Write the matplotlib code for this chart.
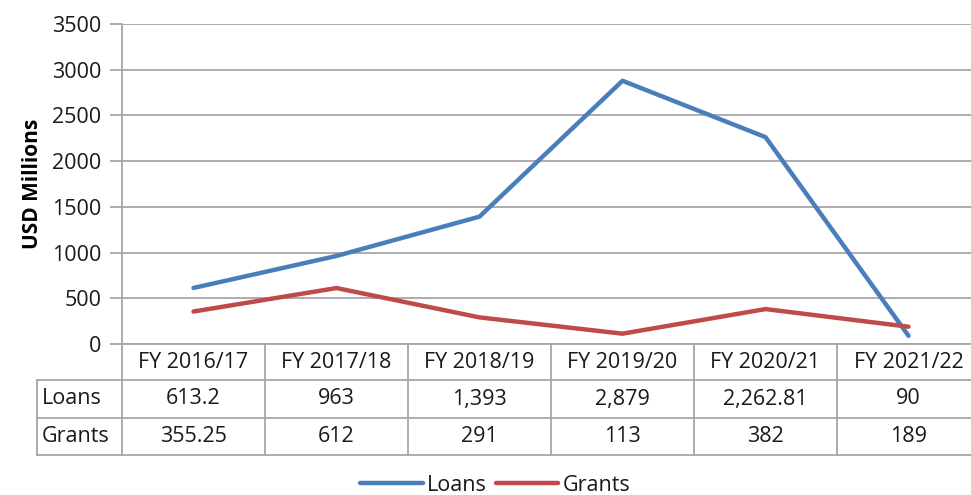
import matplotlib
matplotlib.use('Agg')
import matplotlib.pyplot as plt
import matplotlib.transforms as mtransforms

years = ['FY 2016/17', 'FY 2017/18', 'FY 2018/19', 'FY 2019/20', 'FY 2020/21', 'FY 2021/22']
loans = [613.2, 963, 1393, 2879, 2262.81, 90]
grants = [355.25, 612, 291, 113, 382, 189]
loans_txt = ['613.2', '963', '1,393', '2,879', '2,262.81', '90']
grants_txt = ['355.25', '612', '291', '113', '382', '189']

plt.rcParams['font.family'] = ['Open Sans', 'DejaVu Sans']
blue = '#4A7EBB'
red = '#BE4B48'
grid = '#A6A6A6'
ink = '#1a1a1a'
fs = 15.5

fig = plt.figure(figsize=(9.71, 4.95), dpi=100)
W, H = 971, 495
x0, x1 = 122, 980
ytop, ybot = 24, 344
ax = fig.add_axes([x0 / W, 1 - ybot / H, (x1 - x0) / W, (ybot - ytop) / H])

xs = list(range(len(years)))
ax.plot(xs, loans, color=blue, lw=3.2, label='Loans', solid_capstyle='round')
ax.plot(xs, grants, color=red, lw=3.2, label='Grants', solid_capstyle='round')

ax.set_xlim(-0.5, 5.5)
ax.set_ylim(0, 3500)
ax.set_yticks(range(0, 3501, 500))
ax.tick_params(axis='y', length=9, width=1.3, color=grid, labelsize=fs, labelcolor=ink, pad=6)
ax.set_xticks([])
ax.yaxis.grid(True, color=grid, lw=1.3)
ax.set_axisbelow(True)
for s in ['top', 'right']:
    ax.spines[s].set_visible(False)
ax.spines['left'].set_color(grid)
ax.spines['left'].set_linewidth(1.3)
ax.spines['bottom'].set_color(grid)
ax.spines['bottom'].set_linewidth(1.3)
ax.set_ylabel('USD Millions', fontsize=15, fontweight='bold', color='black', labelpad=6)

# data table under the plot
px = 1.0 / (ybot - ytop)
rows = [0, -36 * px, -74 * px, -111 * px]
tr = mtransforms.blended_transform_factory(ax.transData, ax.transAxes)
lab_left = -0.5 - 85 / 143.0
kw = dict(color=grid, lw=1.3, transform=tr, clip_on=False)
for xb in [x + 0.5 for x in range(-1, 6)]:
    ax.plot([xb, xb], [0, rows[3]], **kw)
ax.plot([lab_left, lab_left], [rows[1], rows[3]], **kw)
for r in rows[1:]:
    ax.plot([lab_left, 5.5], [r, r], **kw)

for i, y in enumerate(years):
    ax.text(i, (rows[0] + rows[1]) / 2, y, transform=tr, ha='center', va='center', fontsize=fs, color=ink)
    ax.text(i, (rows[1] + rows[2]) / 2, loans_txt[i], transform=tr, ha='center', va='center', fontsize=fs, color=ink)
    ax.text(i, (rows[2] + rows[3]) / 2, grants_txt[i], transform=tr, ha='center', va='center', fontsize=fs, color=ink)
ax.text(lab_left + 0.035, (rows[1] + rows[2]) / 2, 'Loans', transform=tr, ha='left', va='center', fontsize=fs, color=ink)
ax.text(lab_left + 0.035, (rows[2] + rows[3]) / 2, 'Grants', transform=tr, ha='left', va='center', fontsize=fs, color=ink)

fig.legend(loc='center', bbox_to_anchor=(0.51, 0.02), ncol=2, frameon=False, fontsize=fs,
           handlelength=2.9, handletextpad=0.2, columnspacing=0.4, labelcolor=ink)

fig.savefig('out.png', dpi=100)
